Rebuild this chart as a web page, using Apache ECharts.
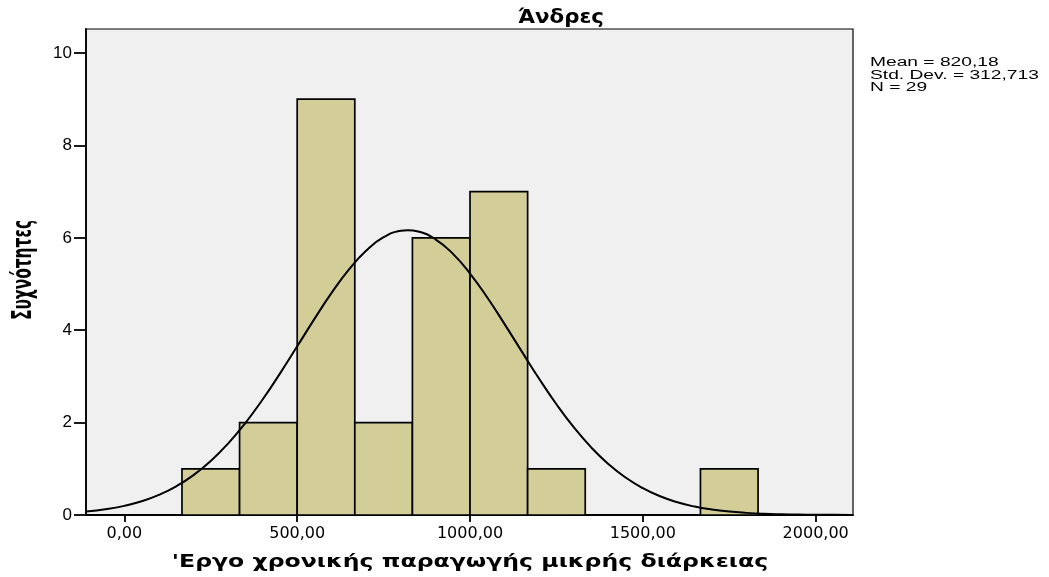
<!DOCTYPE html>
<html>
<head>
<meta charset="utf-8">
<script src="https://cdn.jsdelivr.net/npm/echarts@6/dist/echarts.min.js"></script>
<style>html,body{margin:0;padding:0;background:#fff}#c{width:1049px;height:577px}</style>
</head>
<body>
<div id="c"></div>
<script>
const titleText = 'Άνδρες';
const xAxisName = "'Εργο χρονικής παραγωγής μικρής διάρκειας";
const yAxisName = 'Συχνότητες';
const statsLines = ['Mean = 820,18', 'Std. Dev. = 312,713', 'N = 29'];
const binEdges = [166.67, 333.33, 500, 666.67, 833.33, 1000, 1166.67, 1333.33, 1500, 1666.67, 1833.33];
const counts = [1, 2, 9, 2, 6, 7, 1, 0, 0, 1];
const xTicks = [0, 500, 1000, 1500, 2000];
const yTicks = [0, 2, 4, 6, 8, 10];
const curveX = [-111, -50, 0, 50, 100, 150, 200, 250, 300, 350, 400, 450, 500, 550, 600, 650, 700, 750, 800, 820, 850, 900, 950, 1000, 1050, 1100, 1150, 1200, 1250, 1300, 1350, 1400, 1450, 1500, 1550, 1600, 1650, 1700, 1750, 1800, 1850, 1900, 1950, 2000, 2050, 2108];
const curveY = [0.074, 0.128, 0.198, 0.297, 0.435, 0.620, 0.863, 1.170, 1.546, 1.991, 2.500, 3.060, 3.651, 4.245, 4.812, 5.317, 5.727, 6.013, 6.153, 6.166, 6.138, 5.968, 5.657, 5.227, 4.707, 4.132, 3.536, 2.949, 2.398, 1.900, 1.468, 1.105, 0.811, 0.581, 0.405, 0.275, 0.182, 0.118, 0.074, 0.046, 0.027, 0.016, 0.009, 0.005, 0.003, 0.001];

const histData = counts.map((c, i) => [binEdges[i], binEdges[i + 1], c]).filter(d => d[2] > 0);
const fmt = v => v.toFixed(2).replace('.', ',');

const chart = echarts.init(document.getElementById('c'), null, {renderer: 'canvas'});
chart.setOption({
  animation: false,
  backgroundColor: '#ffffff',
  grid: {left: 86, right: 196, top: 29, bottom: 62, show: true, backgroundColor: '#f0f0f0', borderColor: '#000', borderWidth: 1.2},
  xAxis: {
    type: 'value', min: -111, max: 2108,
    axisLine: {show: true, onZero: false, lineStyle: {color: '#000', width: 1.8}},
    axisTick: {show: true, length: 7, customValues: xTicks, lineStyle: {color: '#000', width: 1.8}},
    axisLabel: {customValues: xTicks, formatter: fmt, margin: 11, fontFamily: 'DejaVu Sans', fontSize: 16, color: '#000'},
    splitLine: {show: false}
  },
  yAxis: {
    type: 'value', min: 0, max: 10.52,
    axisLine: {show: true, onZero: false, lineStyle: {color: '#000', width: 1.8}},
    axisTick: {show: true, length: 12, customValues: yTicks, lineStyle: {color: '#000', width: 1.8}},
    axisLabel: {customValues: yTicks, margin: 14, fontFamily: 'Liberation Sans', fontSize: 17, color: '#000'},
    splitLine: {show: false}
  },
  graphic: [
    {type: 'text', x: 561, y: 18, scaleX: 1.12,
     style: {text: titleText, font: 'bold 19px "DejaVu Sans"', fill: '#000', align: 'center', verticalAlign: 'middle'}},
    {type: 'text', x: 870, y: 57, scaleX: 1.6,
     style: {text: statsLines.join('\n'), font: '12px "Liberation Sans"', lineHeight: 12.3, fill: '#000', align: 'left', verticalAlign: 'top'}},
    {type: 'text', x: 470, y: 562, scaleX: 1.31,
     style: {text: xAxisName, font: 'bold 18px "DejaVu Sans"', fill: '#000', align: 'center', verticalAlign: 'middle'}},
    {type: 'text', x: 23.5, y: 270, rotation: Math.PI / 2, scaleX: 0.57,
     style: {text: yAxisName, font: 'bold 27px "DejaVu Sans"', fill: '#000', align: 'center', verticalAlign: 'middle'}}
  ],
  series: [
    {
      type: 'custom',
      data: histData,
      encode: {x: [0, 1], y: 2},
      renderItem: function (params, api) {
        const p0 = api.coord([api.value(0), 0]);
        const p1 = api.coord([api.value(1), api.value(2)]);
        return {
          type: 'rect',
          shape: {x: p0[0], y: p1[1], width: p1[0] - p0[0], height: p0[1] - p1[1]},
          style: {fill: '#d3ce98', stroke: '#000', lineWidth: 1.7}
        };
      },
      z: 2
    },
    {
      type: 'line',
      data: curveX.map((x, i) => [x, curveY[i]]),
      smooth: true,
      symbol: 'none',
      lineStyle: {color: '#000', width: 2},
      clip: true,
      z: 3
    }
  ]
});
</script>
</body>
</html>
